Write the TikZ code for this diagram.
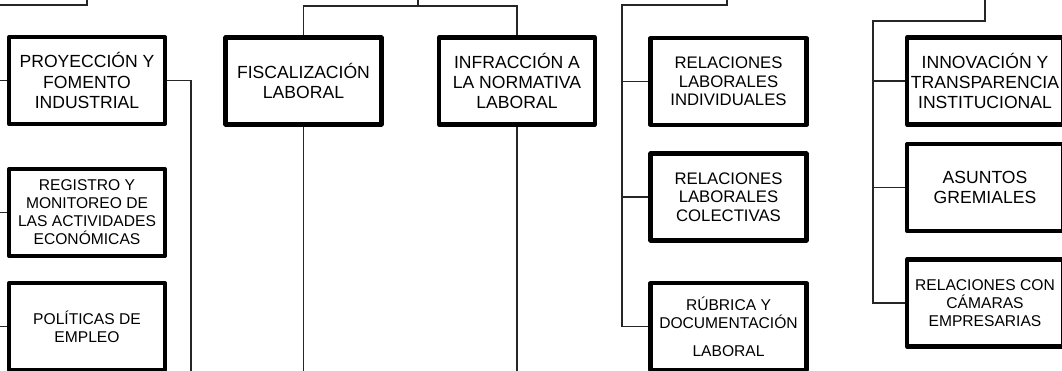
\documentclass[tikz,border=0pt]{standalone}
\usepackage{fontspec}
\setmainfont{Liberation Sans}
\tikzstyle{unit} = [rectangle, minimum width=38.9mm, minimum height=21.7mm, inner sep=0, text centered, align=center, draw=black, line width=3.2pt, line join=round]
\tikzstyle{bigtxt} = [font=\fontsize{12.5}{14.4}\selectfont]
\tikzstyle{midtxt} = [font=\fontsize{11.9}{13}\selectfont]
\tikzstyle{smalltxt} = [font=\fontsize{11.1}{12.8}\selectfont]
\tikzstyle{conn} = [line width=0.75pt, black!85]

\begin{document}
\begin{tikzpicture}[x=0.25mm,y=-0.25mm]
\path[use as bounding box, clip] (0,0) rectangle (1062,370);
% boxes
\node[unit,bigtxt] (proy) at (87,80.5) {PROYECCIÓN Y\\FOMENTO\\INDUSTRIAL};
\node[unit,smalltxt] (regi) at (87,212.5) {REGISTRO Y\\MONITOREO DE\\LAS ACTIVIDADES\\ECONÓMICAS};
\node[unit,smalltxt] (poli) at (87,326.5) {POLÍTICAS DE\\EMPLEO};
\node[unit,bigtxt] (fisc) at (303.5,81) {FISCALIZACIÓN\\LABORAL};
\node[unit,bigtxt] (infr) at (517,81) {INFRACCIÓN A\\LA NORMATIVA\\LABORAL};
\node[unit,midtxt] (rlind) at (728.5,81.5) {RELACIONES\\LABORALES\\INDIVIDUALES};
\node[unit,midtxt] (rlcol) at (728.5,197) {RELACIONES\\LABORALES\\COLECTIVAS};
\node[unit,smalltxt] (rubr) at (728.5,326.5) {RÚBRICA Y\\DOCUMENTACIÓN\\[7pt]LABORAL};
\node[unit,bigtxt] (inno) at (985,81) {INNOVACIÓN Y\\TRANSPARENCIA\\INSTITUCIONAL};
\node[unit,bigtxt] (asun) at (985,187.5) {ASUNTOS\\GREMIALES};
\node[unit,smalltxt] (cama) at (985,303) {RELACIONES CON\\CÁMARAS\\EMPRESARIAS};
% free ends
\coordinate (pA) at (87,-10);
\coordinate (tA) at (-3,5);
\coordinate (dA) at (191,380);
\coordinate (pB) at (418,-10);
\coordinate (tB) at (418,6);
\coordinate (bot) at (0,380);
\coordinate (pC) at (727,-10);
\coordinate (tC) at (622,5);
\coordinate (pD) at (985,-10);
\coordinate (tD) at (873,21);
% connectors
\draw[conn] (pA) |- (tA) |- (poli.west);
\draw[conn] (tA) |- (proy.west);
\draw[conn] (tA) |- (regi.west);
\draw[conn] (proy.east) -| (dA);
\draw[conn] (pB) -- (tB);
\draw[conn] (tB) -| (fisc.north);
\draw[conn] (tB) -| (infr.north);
\draw[conn] (fisc.south) -- (fisc.south |- bot);
\draw[conn] (infr.south) -- (infr.south |- bot);
\draw[conn] (pC) |- (tC) |- (rubr.west);
\draw[conn] (tC) |- (rlind.west);
\draw[conn] (tC) |- (rlcol.west);
\draw[conn] (pD) |- (tD) |- (cama.west);
\draw[conn] (tD) |- (inno.west);
\draw[conn] (tD) |- (asun.west);
\end{tikzpicture}
\end{document}
